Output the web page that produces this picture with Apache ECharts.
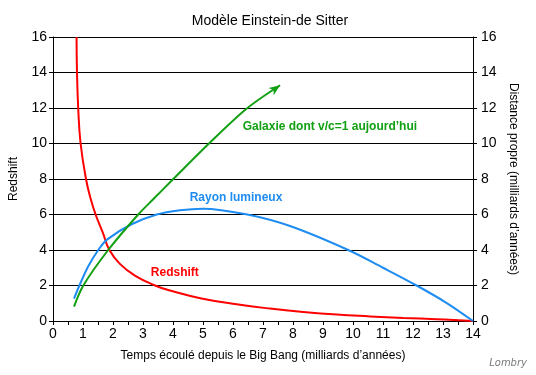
<!DOCTYPE html>
<html>
<head>
<meta charset="utf-8">
<script src="https://cdn.jsdelivr.net/npm/echarts@6/dist/echarts.min.js"></script>
<style>
html,body{margin:0;padding:0;background:#fff;}
#chart{width:536px;height:375px;}
</style>
</head>
<body>
<div id="chart"></div>
<script>
// ---- data ----
const xTicks = [0,1,2,3,4,5,6,7,8,9,10,11,12,13,14];
const yTicks = [0,2,4,6,8,10,12,14,16];

// Redshift curve (time in Gyr, redshift)
const redT = [0.785,0.80,0.84,0.92,1.10,1.26,1.42,1.66,1.88,2.23,2.73,3.40,3.90,4.95,6.12,7.23,8.34,9.46,10.57,11.68,12.79,14.0];
const redZ = [16,14,12,10,8,6.86,6,4.98,4,3.22,2.56,2,1.72,1.27,0.94,0.70,0.51,0.36,0.26,0.17,0.10,0];

// Light ray (proper distance, Gyr)
const blueT = [0.70,0.88,1.18,1.51,1.81,2.62,3.46,4.23,5.0,6.48,7.9,9.84,11.0,12.12,13.1,14.0];
const blueD = [1.26,2,3.1,4,4.6,5.45,6,6.24,6.33,6,5.35,4,3.0,2,1.04,0];

// Galaxy with v/c = 1 today
const greenT = [0.70,1.01,1.84,2.84,3.34,4.01,5.2,6.46,7.57];
const greenD = [0.81,2,4,6,6.86,8,10,11.97,13.28];

const RED = '#ff0000', BLUE = '#1e8cf0', GREEN = '#11a011';
const FONT = 'Liberation Sans, Arial, sans-serif';

function pairs(xs, ys){ return xs.map((x,i)=>[x, ys[i]]); }

const greenData = pairs(greenT, greenD).map((p,i,a)=> i===a.length-1 ? {
  value: p,
  symbol: 'path://M0,0 L5,11 L0,8 L-5,11 Z',
  symbolSize: [9, 11],
  symbolRotate: -55,
  symbolOffset: [-4.5, 3.2],
  itemStyle: {color: GREEN}
} : p);

const chart = echarts.init(document.getElementById('chart'), null, {renderer:'canvas'});
chart.setOption({
  animation: false,
  backgroundColor: '#fff',
  title: {
    text: 'Modèle Einstein-de Sitter',
    left: 265, top: 9, textAlign: 'center',
    textStyle: {fontFamily: FONT, fontSize: 14, fontWeight: 'normal', color: '#000'}
  },
  grid: {left: 53, right: 63, top: 37, bottom: 54},
  xAxis: {
    type: 'value', min: xTicks[0], max: xTicks[xTicks.length-1], interval: 1,
    name: 'Temps écoulé depuis le Big Bang (milliards d’années)',
    nameLocation: 'middle', nameGap: 29,
    nameTextStyle: {fontFamily: FONT, fontSize: 12, color: '#000'},
    axisLine: {show: true, onZero: false, lineStyle: {color: '#000', width: 1}},
    axisTick: {show: true, length: 4, lineStyle: {color: '#000'}},
    minorTick: {show: true, splitNumber: 2, length: 4, lineStyle: {color: '#000'}},
    axisLabel: {fontFamily: FONT, fontSize: 14, color: '#000', margin: 6},
    splitLine: {show: false}
  },
  yAxis: [{
    type: 'value', min: yTicks[0], max: yTicks[yTicks.length-1], interval: 2,
    name: 'Redshift', nameLocation: 'middle', nameGap: 33, nameRotate: 90,
    nameTextStyle: {fontFamily: FONT, fontSize: 12, color: '#000'},
    axisLine: {show: true, lineStyle: {color: '#000', width: 1}},
    axisTick: {show: true, length: 4, lineStyle: {color: '#000'}},
    axisLabel: {fontFamily: FONT, fontSize: 14, color: '#000', margin: 6},
    splitLine: {show: true, lineStyle: {color: '#000', width: 1}}
  },{
    type: 'value', position: 'right', min: yTicks[0], max: yTicks[yTicks.length-1], interval: 2,
    name: 'Distance propre (milliards d’années)', nameLocation: 'middle', nameGap: 30, nameRotate: -90,
    nameTextStyle: {fontFamily: FONT, fontSize: 12, color: '#000'},
    axisLine: {show: true, lineStyle: {color: '#000', width: 1}},
    axisTick: {show: true, length: 4, lineStyle: {color: '#000'}},
    axisLabel: {fontFamily: FONT, fontSize: 14, color: '#000', margin: 8},
    splitLine: {show: false}
  }],
  series: [{
    name: 'Redshift', type: 'line', yAxisIndex: 0,
    data: pairs(redT, redZ), smooth: 0.45,
    showSymbol: false, lineStyle: {color: RED, width: 2}, itemStyle: {color: RED},
    markPoint: {
      symbol: 'circle', symbolSize: 1, itemStyle: {color: 'rgba(0,0,0,0)'},
      label: {show: true, position: 'inside', formatter: 'Redshift', color: RED,
        fontFamily: FONT, fontSize: 12, fontWeight: 'bold'},
      data: [{coord: [4.06, 2.74]}]
    }
  },{
    name: 'Rayon lumineux', type: 'line', yAxisIndex: 1,
    data: pairs(blueT, blueD), smooth: 0.35,
    showSymbol: false, lineStyle: {color: BLUE, width: 2}, itemStyle: {color: BLUE},
    markPoint: {
      symbol: 'circle', symbolSize: 1, itemStyle: {color: 'rgba(0,0,0,0)'},
      label: {show: true, position: 'inside', formatter: 'Rayon lumineux', color: BLUE,
        fontFamily: FONT, fontSize: 12, fontWeight: 'bold'},
      data: [{coord: [6.1, 6.97]}]
    }
  },{
    name: 'Galaxie', type: 'line', yAxisIndex: 1,
    data: greenData, smooth: 0.3,
    showSymbol: true, symbol: 'none',
    lineStyle: {color: GREEN, width: 2}, itemStyle: {color: GREEN},
    markPoint: {
      symbol: 'circle', symbolSize: 1, itemStyle: {color: 'rgba(0,0,0,0)'},
      label: {show: true, position: 'inside', formatter: 'Galaxie dont v/c=1 aujourd’hui', color: GREEN,
        fontFamily: FONT, fontSize: 12, fontWeight: 'bold'},
      data: [{coord: [9.23, 10.97]}]
    }
  }],
  graphic: [{
    type: 'text', right: 9, bottom: 7,
    style: {text: 'Lombry', fill: '#7a7a7a', font: 'italic 10px "DejaVu Sans", sans-serif'}
  }]
});
</script>
</body>
</html>
